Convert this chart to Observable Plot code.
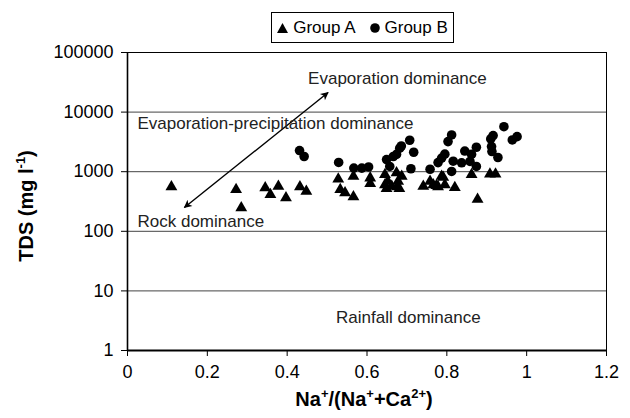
<!DOCTYPE html>
<html>
<head>
<meta charset="utf-8">
<script src="https://cdn.jsdelivr.net/npm/d3@7"></script>
<script src="https://cdn.jsdelivr.net/npm/@observablehq/plot@0.6"></script>
<style>
  body { margin: 0; background: #fff; }
  #wrap { position: relative; width: 630px; height: 418px; font-family: Arial, "Liberation Sans", Helvetica, sans-serif; }
  #wrap svg [aria-label^="x-axis"] text, #wrap svg [aria-label^="y-axis"] text { font-size: 18px; }
  #legend { position: absolute; left: 271px; top: 12px; width: 181px; height: 29px; border: 1px solid #000;
    display: flex; align-items: center; justify-content: center; font-size: 17px; color: #000; background: #fff; }
  #legend .item { display: flex; align-items: center; }
  #legend svg { margin-right: 5px; }
  #legend .gap { width: 14px; }
</style>
</head>
<body>
<div id="wrap"></div>
<script>
// Group A (triangles): Na+/(Na+ + Ca2+) ratio and TDS (mg/l)
const groupA_ratio = [0.11, 0.272, 0.285, 0.345, 0.358, 0.378, 0.397, 0.432, 0.448, 0.528, 0.533, 0.545, 0.566, 0.566,
  0.608, 0.608, 0.645, 0.645, 0.649, 0.652, 0.662, 0.674, 0.678, 0.676, 0.687, 0.681, 0.741, 0.758, 0.766, 0.774,
  0.778, 0.787, 0.791, 0.795, 0.82, 0.862, 0.877, 0.908, 0.922];
const groupA_tds = [556, 500, 248, 535, 414, 569, 365, 556, 469, 755, 501, 441, 378, 835,
  785, 630, 891, 600, 520, 690, 569, 960, 690, 560, 835, 520, 569, 690, 600, 584,
  560, 835, 805, 600, 540, 891, 345, 916, 916];

// Group B (circles)
const groupB_ratio = [0.431, 0.4425, 0.529, 0.567, 0.587, 0.604, 0.649, 0.657, 0.666, 0.674, 0.682, 0.686, 0.707, 0.717,
  0.71, 0.758, 0.778, 0.787, 0.795, 0.803, 0.812, 0.816, 0.812, 0.837, 0.845, 0.862, 0.874, 0.858, 0.874,
  0.91, 0.916, 0.912, 0.913, 0.928, 0.943, 0.964, 0.976];
const groupB_tds = [2265, 1800, 1430, 1150, 1150, 1200, 1600, 1225, 1800, 1950, 2480, 2700, 3370, 2120,
  1120, 1100, 1420, 1690, 1970, 3200, 4140, 1500, 1010, 1410, 2220, 1950, 2570, 1485, 1225,
  3550, 4030, 2640, 2180, 1730, 5690, 3410, 3870];

const xTicks = [0, 0.2, 0.4, 0.6, 0.8, 1, 1.2];
const xTickLabels = ["0", "0.2", "0.4", "0.6", "0.8", "1", "1.2"];
const yTicks = [1, 10, 100, 1000, 10000, 100000];
const yTickLabels = ["1", "10", "100", "1000", "10000", "100000"];
const gridValues = [10, 100, 1000, 10000];

const zoneLabels = ["Evaporation dominance", "Evaporation-precipitation dominance", "Rock dominance", "Rainfall dominance"];
const zoneX = [0.4525, 0.025, 0.025, 0.5225];
const zoneY = [36600, 6440, 146, 3.6];

const arrowFrom = [0.1425, 251];
const arrowTo = [0.5025, 21300];

const groupA = groupA_ratio.map((r, i) => ({r, tds: groupA_tds[i]}));
const groupB = groupB_ratio.map((r, i) => ({r, tds: groupB_tds[i]}));
const zones = zoneLabels.map((t, i) => ({t, x: zoneX[i], y: zoneY[i]}));
const arrows = [{x1: arrowFrom[0], y1: arrowFrom[1], x2: arrowTo[0], y2: arrowTo[1]}];

const plot = Plot.plot({
  width: 630,
  height: 418,
  marginTop: 52,
  marginLeft: 127,
  marginRight: 24,
  marginBottom: 68,
  style: {fontSize: "17px", fontFamily: 'Arial, "Liberation Sans", Helvetica, sans-serif', color: "#000", background: "#fff"},
  x: {domain: [0, 1.2], ticks: xTicks, tickFormat: d => xTickLabels[xTicks.indexOf(d)], tickSize: 6, tickPadding: 9, label: null},
  y: {type: "log", domain: [1, 100000], ticks: yTicks, tickFormat: d => yTickLabels[yTicks.indexOf(d)], tickSize: 6, tickPadding: 8, label: null},
  marks: [
    Plot.ruleY(gridValues, {stroke: "#444", strokeWidth: 1}),
    Plot.ruleY([100000], {stroke: "#000", strokeWidth: 1}),
    Plot.ruleX([1.2], {stroke: "#000", strokeWidth: 1}),
    Plot.ruleX([0], {stroke: "#000", strokeWidth: 1.6}),
    Plot.ruleY([1], {stroke: "#000", strokeWidth: 1.8}),
    Plot.link(arrows, {x1: "x1", y1: "y1", x2: "x2", y2: "y2", stroke: "#000", strokeWidth: 1.4}),
    Plot.text(zones, {x: "x", y: "y", text: "t", textAnchor: "start", fill: "#222", fontSize: 17}),
    Plot.dot(groupA, {x: "r", y: "tds", symbol: "triangle", fill: "#000", stroke: "none", r: 4.4}),
    Plot.dot(groupB, {x: "r", y: "tds", symbol: "circle", fill: "#000", stroke: "none", r: 4.8})
  ]
});

const wrap = document.getElementById("wrap");
wrap.appendChild(plot);

const svg = d3.select(plot);
// filled arrowheads on both ends of the link
const defs = svg.append("defs");
defs.append("marker")
  .attr("id", "ah").attr("viewBox", "0 0 10 10").attr("refX", 9).attr("refY", 5)
  .attr("markerWidth", 11).attr("markerHeight", 8).attr("markerUnits", "userSpaceOnUse")
  .attr("orient", "auto-start-reverse")
  .append("path").attr("d", "M0,0 L10,5 L0,10 L2.5,5 z").attr("fill", "#000");
svg.selectAll('g[aria-label="link"] path').attr("marker-start", "url(#ah)").attr("marker-end", "url(#ah)");

// axis titles with superscripts
const xt = svg.append("text").attr("x", 364).attr("y", 406).attr("text-anchor", "middle")
  .attr("font-weight", "bold").attr("font-size", 20).attr("fill", "#000");
xt.append("tspan").text("Na");
xt.append("tspan").attr("dy", -8).attr("font-size", 13).text("+");
xt.append("tspan").attr("dy", 8).text("/(Na");
xt.append("tspan").attr("dy", -8).attr("font-size", 13).text("+");
xt.append("tspan").attr("dy", 8).text("+Ca");
xt.append("tspan").attr("dy", -8).attr("font-size", 13).text("2+");
xt.append("tspan").attr("dy", 8).text(")");

const yt = svg.append("text").attr("transform", "translate(33,206) rotate(-90)").attr("text-anchor", "middle")
  .attr("font-weight", "bold").attr("font-size", 20).attr("fill", "#000");
yt.append("tspan").text("TDS (mg l");
yt.append("tspan").attr("dy", -8).attr("font-size", 13).text("-1");
yt.append("tspan").attr("dy", 8).text(")");

// legend
const legend = document.createElement("div");
legend.id = "legend";
legend.innerHTML =
  '<span class="item"><svg width="11" height="10"><path d="M5.5,0 L11,10 L0,10 z" fill="#000"/></svg>Group A</span>' +
  '<span class="gap"></span>' +
  '<span class="item"><svg width="10" height="10"><circle cx="5" cy="5" r="4.8" fill="#000"/></svg>Group B</span>';
wrap.appendChild(legend);
</script>
</body>
</html>
